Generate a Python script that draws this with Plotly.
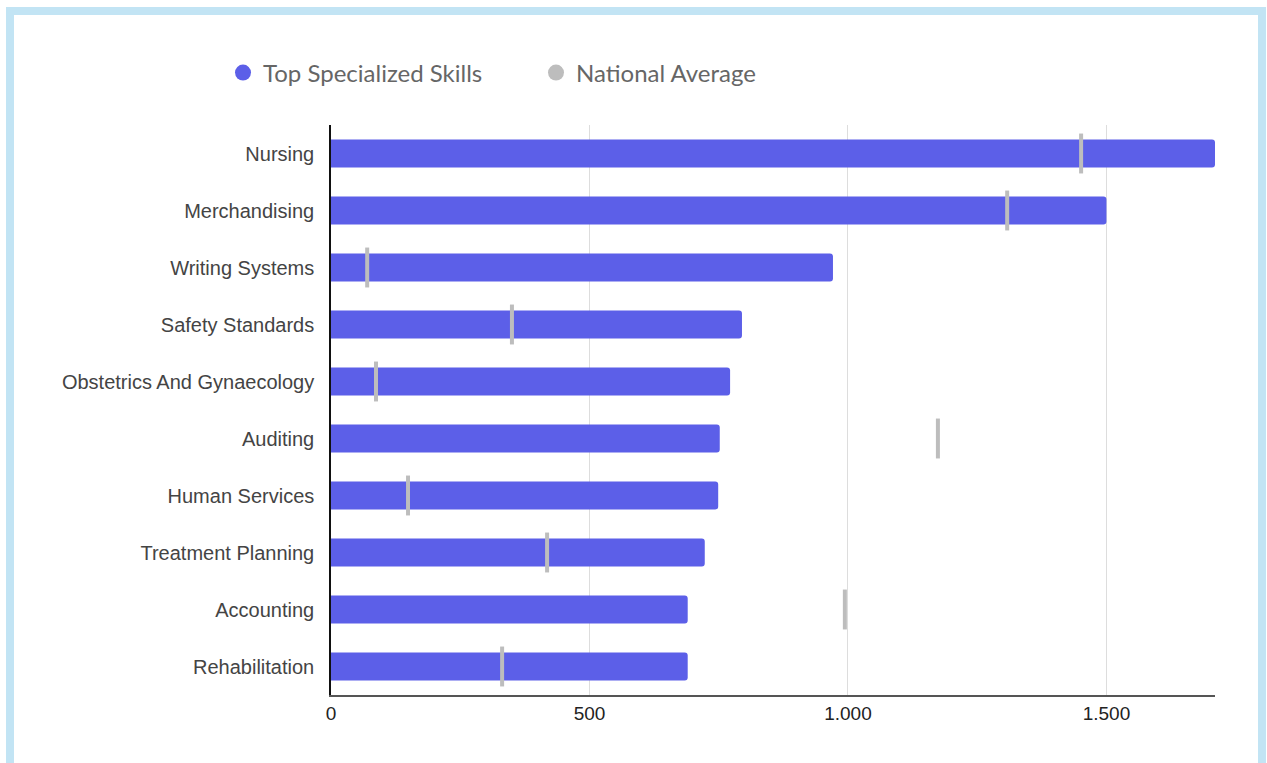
import plotly.graph_objects as go

skills = ["Nursing", "Merchandising", "Writing Systems", "Safety Standards",
          "Obstetrics And Gynaecology", "Auditing", "Human Services",
          "Treatment Planning", "Accounting", "Rehabilitation"]
top_values = [1710, 1500, 971, 795, 772, 752, 749, 723, 690, 690]
national_avg = [1451, 1308, 70, 350, 87, 1174, 149, 418, 994, 331]
x_ticks = [0, 500, 1000, 1500]
x_tick_labels = ["0", "500", "1.000", "1.500"]

BAR = "#5C5FE8"
GRAY = "#BDBDBD"

# plot area pixel geometry
W, H = 1267, 763
L, R, T, B = 331, 52, 125, 68
pw, ph = W - L - R, H - T - B

def px(x):
    return (x - L) / pw

def py(y):
    return (H - B - y) / ph

fig = go.Figure()
fig.add_trace(go.Bar(
    y=skills, x=top_values, orientation="h",
    marker=dict(color=BAR, line=dict(width=0)),
    width=0.49, showlegend=False, hoverinfo="x+y",
))
fig.add_trace(go.Scatter(
    y=skills, x=national_avg, mode="markers",
    marker=dict(symbol="line-ns", size=28.5, line=dict(width=4, color=GRAY), color=GRAY),
    showlegend=False,
))
# legend entries with circle symbols
fig.add_trace(go.Scatter(
    x=[None], y=[None], mode="markers", name="Top Specialized Skills",
    marker=dict(symbol="circle", size=16, color=BAR),
))
fig.add_trace(go.Scatter(
    x=[None], y=[None], mode="markers", name="National Average",
    marker=dict(symbol="circle", size=16, color=GRAY),
))

fig.update_layout(
    width=W, height=H,
    margin=dict(l=L, r=R, t=T, b=B, pad=0),
    paper_bgcolor="white", plot_bgcolor="white",
    barcornerradius=3,
    separators=",.",
    legend=dict(
        orientation="h", x=px(223), xanchor="left", y=py(73), yanchor="middle",
        font=dict(family="Lato", size=24, color="#666666"),
        entrywidth=268, entrywidthmode="pixels",
        bgcolor="rgba(0,0,0,0)",
    ),
    xaxis=dict(
        range=[0, 1710], tickvals=x_ticks, ticktext=x_tick_labels,
        showgrid=True, gridcolor="#DDDDDD", gridwidth=1,
        zeroline=False, showline=True, linecolor="#555555", linewidth=2,
        ticks="", tickfont=dict(family="Liberation Sans", size=19, color="#222222"),
        fixedrange=True,
    ),
    yaxis=dict(
        categoryorder="array", categoryarray=skills, range=[9.5, -0.5],
        showgrid=False, zeroline=False, showline=True, linecolor="#111111", linewidth=1.5,
        ticks="", ticklabelstandoff=11,
        tickfont=dict(family="Liberation Sans", size=20, color="#444444"),
        fixedrange=True,
    ),
    shapes=[dict(
        type="rect", xref="paper", yref="paper",
        x0=px(10), x1=px(1262), y0=py(820), y1=py(11),
        line=dict(color="#C2E4F4", width=8), fillcolor="rgba(0,0,0,0)", layer="below",
    )],
)

fig.write_html("out.html")
